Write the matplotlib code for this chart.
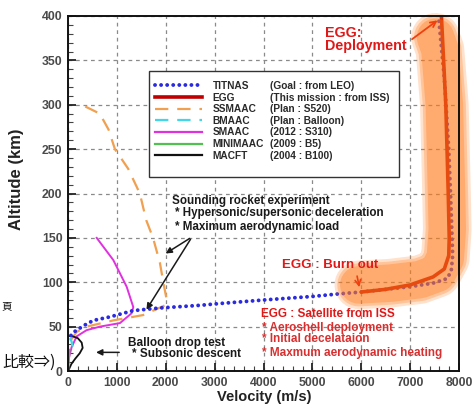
import matplotlib
matplotlib.use("Agg")
import matplotlib.pyplot as plt
from matplotlib.lines import Line2D
from matplotlib.patches import Rectangle
from matplotlib.ticker import MultipleLocator

plt.rcParams['font.family'] = ['Liberation Sans', 'DejaVu Sans']

# ---------------- data ----------------
titnas_v = [60, 100, 177, 350, 520, 860, 1330, 1880, 2700, 3100, 4000, 5000, 5560, 6000,
            6500, 7000, 7470, 7750, 7840, 7870, 7840, 7790, 7700, 7580]
titnas_h = [40, 43, 46, 52, 57, 61, 68, 71, 74, 76, 80, 84, 87, 89,
            92, 95, 99, 104, 112, 130, 180, 250, 330, 400]

egg_v = [6000, 6500, 7000, 7470, 7700, 7790, 7800, 7780, 7730, 7640]
egg_h = [89, 92, 97, 106, 115, 130, 150, 200, 300, 400]

ssmaac_v = [60, 177, 380, 925, 1535, 1985, 2020, 1950, 1880, 1740, 1600, 1470, 1230, 960, 830, 650, 280]
ssmaac_h = [35, 44, 50, 57, 63, 74, 80, 100, 122, 150, 170, 200, 228, 250, 272, 290, 300]

bmaac_v = [40, 75, 90, 60]
bmaac_h = [37, 33, 28, 24]

smaac_v = [0, 6, 75, 177, 380, 654, 1063, 1300, 1336, 1200, 927, 587]
smaac_h = [0, 12, 27, 39, 46, 50, 54, 65, 72, 95, 125, 150]

minimaac_v = [5, 15, 25, 30]
minimaac_h = [0, 8, 16, 24]

macft_v = [20, 70, 150, 240, 300, 280, 200, 100, 0]
macft_h = [2, 8, 14, 20, 26, 32, 37, 39, 40]

# highlight brush path following the EGG trajectory
glow_v = [5950, 6600, 7200, 7550, 7720, 7760, 7745, 7700, 7610, 7520]
glow_h = [97, 99, 103, 110, 127, 160, 200, 300, 362, 376]

names = ["TITNAS", "EGG", "SSMAAC", "BMAAC", "SMAAC", "MINIMAAC", "MACFT"]
descs = ["(Goal : from LEO)", "(This mission : from ISS)", "(Plan : S520)",
         "(Plan : Balloon)", "(2012 : S310)", "(2009 : B5)", "(2004 : B100)"]

x_ticks = [0, 1000, 2000, 3000, 4000, 5000, 6000, 7000, 8000]
y_ticks = [0, 50, 100, 150, 200, 250, 300, 350, 400]

# ---------------- figure ----------------
fig = plt.figure(figsize=(4.73, 4.04), dpi=100)
ax = fig.add_axes([68/473, 1-371/404, 391/473, 355/404])

ax.set_xlim(0, 8000)
ax.set_ylim(0, 400)
ax.set_xticks(x_ticks)
ax.set_yticks(y_ticks)
ax.xaxis.set_minor_locator(MultipleLocator(200))
ax.yaxis.set_minor_locator(MultipleLocator(10))
ax.tick_params(which='major', direction='in', length=6, width=1.3, color='#222222',
               labelsize=8.8, labelcolor='#4a4a4a', pad=4)
ax.tick_params(which='minor', direction='in', length=3.5, width=0.8, color='#444444')
for lab in ax.get_xticklabels() + ax.get_yticklabels():
    lab.set_fontweight('bold')
for s in ax.spines.values():
    s.set_linewidth(1.4)
    s.set_color('#111111')
    s.set_zorder(5)

ax.grid(True, which='major', color='#8a8a8a', linestyle=(0, (3, 3)), linewidth=0.9)
ax.set_axisbelow(True)

ax.set_xlabel("Velocity (m/s)", fontsize=10.5, fontweight='bold', color='#222222')
ax.xaxis.set_label_coords(0.501, -0.054)
ax.set_ylabel("Altitude (km)", fontsize=12, fontweight='bold', color='#222222')
ax.yaxis.set_label_coords(-0.112, 0.54)

# curves
ax.plot(ssmaac_v, ssmaac_h, color='#f0a050', lw=1.6, linestyle=(0, (6, 4)), zorder=3)
ax.plot(smaac_v, smaac_h, color='#e030e0', lw=1.4, zorder=3)
ax.plot(macft_v, macft_h, color='#111111', lw=1.3, zorder=3)
ax.plot(minimaac_v, minimaac_h, color='#50c050', lw=1.3, zorder=3)
ax.plot(bmaac_v, bmaac_h, color='#40d8e8', lw=1.6, linestyle=(0, (4, 3)), zorder=3)
titnas_ls = (0, (0.01, 1.55))
ax.plot(titnas_v, titnas_h, color='#2a2ae0', lw=2.8, linestyle=titnas_ls,
        dash_capstyle='round', zorder=3.2)
ax.plot(egg_v, egg_h, color='#c00000', lw=2.6, zorder=3.3, solid_capstyle='round')

# orange brush highlight (semi-transparent, drawn over the lines)
for w, a in [(35, 0.22), (31, 0.28), (27, 0.34)]:
    ax.plot(glow_v, glow_h, color='#ff7a1a', lw=w, alpha=a, solid_capstyle='round',
            solid_joinstyle='round', zorder=4, clip_on=False)

# legend
handles = [
    Line2D([], [], color='#2a2ae0', lw=2.8, linestyle=titnas_ls, dash_capstyle='round'),
    Line2D([], [], color='#c00000', lw=2.6),
    Line2D([], [], color='#f0a050', lw=1.6, linestyle=(0, (6, 4))),
    Line2D([], [], color='#40d8e8', lw=1.6, linestyle=(0, (6, 4))),
    Line2D([], [], color='#e030e0', lw=1.6),
    Line2D([], [], color='#50c050', lw=1.6),
    Line2D([], [], color='#111111', lw=1.6),
]
leg_kw = dict(loc='upper left', frameon=False, borderpad=0, borderaxespad=0,
              labelspacing=0.16, prop={'weight': 'bold', 'size': 7.3})
leg1 = ax.legend(handles, names, bbox_to_anchor=(0.2225, 0.817), handlelength=4.6,
                 handletextpad=1.1, labelcolor='#2a2a2a', **leg_kw)
leg1.set_zorder(6)
ax.add_artist(leg1)
blank = [Line2D([], [], linestyle='none') for _ in descs]
leg2 = ax.legend(blank, descs, bbox_to_anchor=(0.5166, 0.817), handlelength=0,
                 handletextpad=0, labelcolor='#2a2a2a', **leg_kw)
leg2.set_zorder(6)
ax.add_patch(Rectangle((0.207, 0.5465), 0.6395, 0.2972, transform=ax.transAxes,
                       facecolor='white', edgecolor='#333333', lw=1.0, zorder=5.5))

# annotations
red = '#e01818'
ax.text(5256, 389, "EGG:\nDeployment", color=red, fontsize=10.3, fontweight='bold',
        ha='left', va='top', linespacing=0.95, zorder=6)
ax.annotate("", xy=(7607, 397), xytext=(6994, 372),
            arrowprops=dict(arrowstyle='->', color='#f04010', lw=1.3), zorder=6)

ax.text(4370, 119.4, "EGG : Burn out", color=red, fontsize=9.5, fontweight='bold',
        ha='left', va='center', zorder=6)
ax.annotate("", xy=(5971, 91.3), xytext=(5904, 110),
            arrowprops=dict(arrowstyle='->', color='#f04010', lw=1.2), zorder=6)

sat_lines = ["EGG : Satellite from ISS", "* Aeroshell deployment",
             "* Initial decelataion", "* Maxmum aerodynamic heating"]
sat_h = [64.2, 49.0, 35.6, 20.6]
sat_v = [3940, 3960, 3960, 3960]
for t, vv, hh, c in zip(sat_lines, sat_v, sat_h, [red, '#d83030', '#d83030', '#d83030']):
    ax.text(vv, hh, t, color=c, fontsize=8.5, fontweight='bold', ha='left', va='center', zorder=6)

snd_lines = ["Sounding rocket experiment", "* Hypersonic/supersonic deceleration",
             "* Maximum aerodynamic load"]
snd_h = [191.9, 177.6, 162.6]
snd_v = [2120, 2188, 2188]
for t, vv, hh in zip(snd_lines, snd_v, snd_h):
    ax.text(vv, hh, t, color='#1a1a1a', fontsize=8.4, fontweight='bold', ha='left',
            va='center', zorder=6)
for hv, hh in [(1949, 130.7), (1575, 66.5)]:
    ax.annotate("", xy=(hv, hh), xytext=(2536, 151),
                arrowprops=dict(arrowstyle='-|>', color='#1a1a1a', lw=1.1,
                                mutation_scale=9), zorder=6)

ax.text(1233, 31.9, "Balloon drop test", color='#1a1a1a', fontsize=8.5, fontweight='bold',
        ha='left', va='center', zorder=6)
ax.text(1303, 18.8, "* Subsonic descent", color='#1a1a1a', fontsize=8.5, fontweight='bold',
        ha='left', va='center', zorder=6)
ax.annotate("", xy=(517, 21), xytext=(1104, 21),
            arrowprops=dict(arrowstyle='-|>', color='#1a1a1a', lw=1.1, mutation_scale=9),
            zorder=6)

# fragments of surrounding Japanese page text
cjk = ['Noto Sans CJK JP', 'DejaVu Sans']
fig.text(56/473, 1-362/404, "比較⇒)", family=cjk, fontsize=11.5, ha='right', va='center',
         color='#111111')
fig.text(1/473, 1-306/404, "頁", family=cjk, fontsize=7.5, ha='left', va='center',
         color='#111111')

fig.savefig("out.png", dpi=100)
